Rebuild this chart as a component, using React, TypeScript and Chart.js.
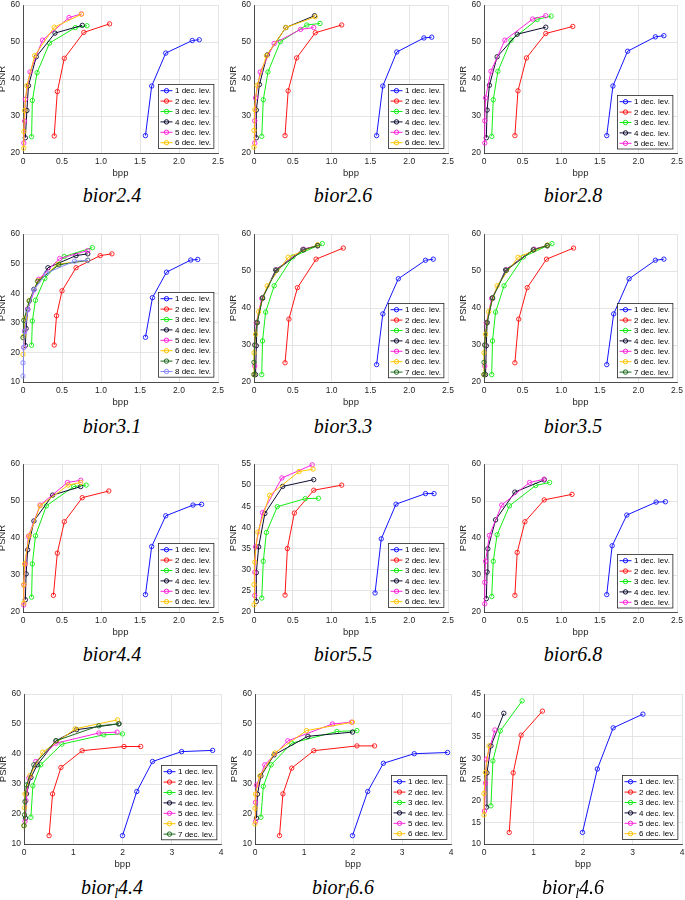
import React, { useEffect, useRef } from 'react';
import { Chart, registerables } from 'chart.js';
Chart.register(...registerables);

// ---------- data: [bpp, PSNR] pairs per decomposition level ----------
// bior2.4
const b24_1 = [[1.57, 24.7], [1.65, 38.1], [1.83, 47.0], [2.17, 50.4], [2.26, 50.6]];
const b24_2 = [[0.40, 24.6], [0.44, 36.6], [0.53, 45.6], [0.78, 52.6], [1.11, 54.9]];
const b24_3 = [[0.11, 24.4], [0.12, 34.2], [0.18, 41.7], [0.34, 49.7], [0.67, 53.9], [0.82, 54.4]];
const b24_4 = [[0.03, 24.1], [0.05, 31.5], [0.07, 38.2], [0.17, 46.0], [0.41, 52.4], [0.76, 54.5]];
const b24_5 = [[0.01, 22.7], [0.02, 28.6], [0.03, 34.5], [0.09, 41.9], [0.25, 50.5], [0.59, 56.6], [0.75, 57.6]];
const b24_6 = [[0.01, 21.3], [0.01, 25.8], [0.02, 31.5], [0.05, 38.2], [0.15, 46.3], [0.40, 54.0], [0.75, 57.5]];
// bior2.6
const b26_1 = [[1.58, 24.7], [1.66, 38.1], [1.84, 47.3], [2.19, 51.1], [2.29, 51.3]];
const b26_2 = [[0.40, 24.7], [0.44, 36.8], [0.55, 45.7], [0.79, 52.5], [1.13, 54.6]];
const b26_3 = [[0.10, 24.5], [0.12, 34.4], [0.18, 41.9], [0.34, 50.1], [0.68, 54.6], [0.85, 55.0]];
const b26_4 = [[0.03, 24.1], [0.03, 31.6], [0.07, 38.5], [0.17, 46.5], [0.41, 53.9], [0.78, 57.1]];
const b26_5 = [[0.01, 22.7], [0.01, 28.7], [0.02, 34.9], [0.08, 41.9], [0.26, 49.6], [0.60, 53.4], [0.77, 53.9]];
const b26_6 = [[0.00, 21.6], [0.00, 26.1], [0.01, 31.7], [0.04, 38.3], [0.16, 46.3], [0.41, 53.9], [0.79, 56.8]];
// bior2.8
const b28_1 = [[1.59, 24.7], [1.67, 38.1], [1.86, 47.5], [2.22, 51.4], [2.33, 51.7]];
const b28_2 = [[0.40, 24.7], [0.44, 36.8], [0.55, 45.7], [0.80, 52.3], [1.15, 54.2]];
const b28_3 = [[0.10, 24.5], [0.12, 34.4], [0.18, 42.1], [0.35, 50.5], [0.69, 56.1], [0.87, 57.0]];
const b28_4 = [[0.03, 24.1], [0.04, 31.6], [0.07, 38.3], [0.17, 46.0], [0.43, 52.1], [0.80, 54.0]];
const b28_5 = [[0.01, 22.7], [0.01, 28.7], [0.02, 34.9], [0.09, 42.1], [0.27, 50.5], [0.63, 56.2], [0.80, 57.1]];
// bior3.1
const b31_1 = [[1.57, 25.1], [1.66, 38.5], [1.84, 47.1], [2.15, 51.2], [2.24, 51.4]];
const b31_2 = [[0.40, 22.5], [0.43, 32.4], [0.50, 40.8], [0.68, 48.6], [0.99, 52.7], [1.14, 53.3]];
const b31_3 = [[0.11, 22.4], [0.12, 30.6], [0.16, 37.6], [0.28, 45.0], [0.53, 52.4], [0.89, 55.4]];
const b31_4 = [[0.03, 22.3], [0.04, 28.1], [0.06, 34.6], [0.14, 41.3], [0.32, 48.6], [0.68, 52.7], [0.83, 53.3]];
const b31_5 = [[0.01, 21.7], [0.02, 27.3], [0.06, 34.6], [0.20, 44.7], [0.47, 51.7], [0.83, 54.4]];
const b31_6 = [[0.00, 19.3], [0.01, 25.5], [0.03, 31.5], [0.08, 37.5], [0.19, 44.2], [0.45, 49.8], [0.83, 51.1]];
const b31_7 = [[0.00, 25.0], [0.01, 30.8], [0.08, 37.4], [0.19, 44.0], [0.46, 49.6], [0.83, 51.1]];
const b31_8 = [[0.00, 12.0], [0.00, 16.5], [0.01, 21.7], [0.02, 27.0], [0.06, 34.3], [0.14, 41.1], [0.30, 46.8], [0.66, 50.8], [0.83, 51.1]];
// bior3.3
const b33_1 = [[1.58, 24.7], [1.66, 38.4], [1.86, 47.9], [2.21, 52.9], [2.31, 53.2]];
const b33_2 = [[0.40, 25.2], [0.45, 37.0], [0.56, 45.5], [0.80, 53.2], [1.15, 56.2]];
const b33_3 = [[0.10, 22.0], [0.11, 31.1], [0.15, 38.9], [0.26, 46.0], [0.50, 53.8], [0.88, 57.4]];
const b33_4 = [[0.02, 22.0], [0.03, 29.8], [0.04, 36.0], [0.11, 42.6], [0.28, 50.3], [0.63, 55.8], [0.82, 56.8]];
const b33_5 = [[0.01, 24.3], [0.01, 30.0], [0.03, 36.0], [0.10, 42.6], [0.29, 50.3], [0.64, 55.9], [0.82, 56.9]];
const b33_6 = [[0.00, 22.0], [0.00, 27.9], [0.02, 32.9], [0.06, 39.0], [0.17, 46.0], [0.44, 53.7], [0.82, 57.1]];
const b33_7 = [[0.00, 22.0], [0.00, 25.3], [0.01, 30.0], [0.04, 36.1], [0.11, 42.8], [0.29, 50.2], [0.64, 55.7], [0.82, 56.9]];
// bior3.5
const b35_1 = [[1.59, 24.7], [1.68, 38.4], [1.88, 47.9], [2.22, 52.9], [2.33, 53.2]];
const b35_2 = [[0.40, 25.2], [0.45, 37.0], [0.56, 45.5], [0.81, 53.2], [1.16, 56.2]];
const b35_3 = [[0.10, 22.0], [0.11, 31.1], [0.15, 38.9], [0.26, 46.0], [0.51, 53.8], [0.88, 57.4]];
const b35_4 = [[0.02, 22.0], [0.03, 29.8], [0.04, 36.0], [0.11, 42.6], [0.28, 50.3], [0.64, 55.8], [0.82, 56.8]];
const b35_5 = [[0.01, 24.3], [0.01, 30.0], [0.03, 36.0], [0.10, 42.6], [0.29, 50.3], [0.65, 55.9], [0.82, 56.9]];
const b35_6 = [[0.00, 22.0], [0.00, 27.9], [0.02, 32.9], [0.06, 39.0], [0.17, 46.0], [0.44, 53.7], [0.82, 57.0]];
const b35_7 = [[0.00, 22.0], [0.00, 25.3], [0.01, 30.0], [0.04, 36.1], [0.11, 42.8], [0.29, 50.2], [0.64, 55.7], [0.82, 56.9]];
// bior4.4
const b44_1 = [[1.57, 24.7], [1.65, 37.7], [1.83, 46.0], [2.18, 48.9], [2.29, 49.1]];
const b44_2 = [[0.39, 24.5], [0.44, 35.9], [0.53, 44.4], [0.76, 50.9], [1.10, 52.7]];
const b44_3 = [[0.11, 24.0], [0.12, 33.0], [0.16, 40.6], [0.30, 48.7], [0.65, 53.9], [0.81, 54.3]];
const b44_4 = [[0.03, 23.3], [0.04, 30.3], [0.06, 36.8], [0.14, 44.6], [0.38, 51.6], [0.74, 53.9]];
const b44_5 = [[0.01, 21.9], [0.01, 27.3], [0.03, 33.0], [0.07, 40.5], [0.22, 48.9], [0.57, 55.0], [0.74, 55.6]];
const b44_6 = [[0.01, 22.4], [0.01, 27.4], [0.02, 33.0], [0.08, 40.6], [0.22, 48.7], [0.58, 54.3], [0.74, 55.0]];
// bior5.5
const b55_1 = [[1.56, 24.5], [1.64, 37.3], [1.83, 45.5], [2.21, 48.0], [2.32, 48.0]];
const b55_2 = [[0.40, 24.0], [0.43, 35.0], [0.52, 43.4], [0.77, 48.8], [1.13, 50.0]];
const b55_3 = [[0.10, 23.3], [0.12, 32.0], [0.16, 38.8], [0.30, 44.9], [0.66, 46.8], [0.83, 46.9]];
const b55_4 = [[0.03, 22.5], [0.03, 29.3], [0.06, 35.4], [0.14, 43.3], [0.37, 49.7], [0.77, 51.3]];
const b55_5 = [[0.01, 23.9], [0.01, 29.4], [0.02, 35.4], [0.11, 43.5], [0.36, 51.7], [0.75, 54.8]];
const b55_6 = [[0.00, 21.7], [0.00, 26.5], [0.01, 31.8], [0.05, 38.9], [0.20, 47.6], [0.58, 53.2], [0.76, 53.8]];
// bior6.8
const b68_1 = [[1.59, 24.7], [1.66, 37.9], [1.85, 46.2], [2.23, 49.7], [2.35, 49.8]];
const b68_2 = [[0.40, 24.5], [0.43, 36.1], [0.53, 44.4], [0.78, 50.3], [1.14, 51.8]];
const b68_3 = [[0.10, 24.2], [0.12, 33.7], [0.17, 40.9], [0.33, 48.7], [0.67, 54.2], [0.85, 55.0]];
const b68_4 = [[0.03, 23.6], [0.04, 30.8], [0.05, 37.1], [0.15, 44.9], [0.40, 52.4], [0.78, 55.7]];
const b68_5 = [[0.01, 22.2], [0.01, 28.0], [0.02, 33.7], [0.07, 40.7], [0.23, 48.9], [0.59, 55.0], [0.78, 55.9]];
// bior_l4.4
const bl44_1 = [[2.00, 12.8], [2.29, 27.5], [2.61, 37.5], [3.20, 40.8], [3.83, 41.2]];
const bl44_2 = [[0.51, 12.8], [0.58, 26.7], [0.75, 35.5], [1.18, 41.1], [2.03, 42.5], [2.37, 42.5]];
const bl44_3 = [[0.14, 18.9], [0.18, 29.4], [0.34, 36.4], [0.77, 43.3], [1.62, 46.4], [2.00, 46.7]];
const bl44_4 = [[0.03, 18.6], [0.05, 26.7], [0.14, 32.2], [0.27, 36.4], [0.65, 44.4], [1.07, 48.1], [1.93, 50.1]];
const bl44_5 = [[0.02, 17.5], [0.04, 24.5], [0.10, 32.0], [0.24, 37.5], [0.65, 43.6], [1.52, 47.0], [1.89, 47.3]];
const bl44_6 = [[0.00, 16.1], [0.01, 22.1], [0.02, 26.7], [0.12, 32.8], [0.38, 40.6], [1.04, 48.4], [1.90, 51.4]];
const bl44_7 = [[0.00, 16.1], [0.01, 19.7], [0.02, 24.1], [0.05, 29.7], [0.20, 36.4], [0.65, 44.4], [1.52, 49.4], [1.92, 50.0]];
// bior_l6.6
const bl66_1 = [[1.99, 12.8], [2.30, 27.5], [2.62, 36.9], [3.25, 40.1], [3.93, 40.5]];
const bl66_2 = [[0.50, 12.8], [0.57, 26.7], [0.75, 35.3], [1.20, 41.1], [2.08, 42.7], [2.44, 42.7]];
const bl66_3 = [[0.12, 18.9], [0.17, 29.2], [0.33, 36.4], [0.75, 43.6], [1.67, 47.5], [2.08, 47.8]];
const bl66_4 = [[0.03, 18.6], [0.05, 26.6], [0.12, 32.7], [0.39, 39.7], [1.08, 45.9], [1.99, 47.3]];
const bl66_5 = [[0.01, 17.5], [0.01, 23.9], [0.03, 29.6], [0.20, 36.4], [0.67, 44.4], [1.58, 50.0], [1.97, 50.6]];
const bl66_6 = [[0.00, 16.7], [0.00, 21.9], [0.01, 26.6], [0.10, 32.7], [0.40, 40.3], [1.05, 47.8], [1.99, 50.6]];
// bior_l4.6
const bl46_1 = [[1.99, 12.7], [2.29, 27.5], [2.61, 37.1], [3.21, 40.3]];
const bl46_2 = [[0.51, 12.7], [0.59, 26.6], [0.75, 35.4], [1.18, 41.0]];
const bl46_3 = [[0.14, 18.9], [0.18, 29.4], [0.33, 36.4], [0.77, 43.4]];
const bl46_4 = [[0.05, 18.6], [0.06, 26.6], [0.14, 32.9], [0.40, 40.5]];
const bl46_5 = [[0.01, 17.7], [0.03, 24.2], [0.05, 29.8], [0.22, 36.6]];
const bl46_6 = [[0.00, 16.8], [0.00, 21.8], [0.03, 26.7], [0.10, 32.9]];

const LEVEL_LABELS = ['1 dec. lev.', '2 dec. lev.', '3 dec. lev.', '4 dec. lev.', '5 dec. lev.', '6 dec. lev.', '7 dec. lev.', '8 dec. lev.'];
const COLORS = ['#1414ff', '#ff1414', '#14ee14', '#0c0c30', '#ff22dd', '#ffc400', '#1e6a1e', '#8a8aff'];

const X_TICKS_A = { max: 2.5, step: 0.5 };
const X_TICKS_B = { max: 4, step: 1 };

// ---------- layout (plot-area pixel boxes) ----------
const PLOTS = [
  { base: 'bior', sub: '', ver: '2.4', series: [b24_1, b24_2, b24_3, b24_4, b24_5, b24_6], xt: X_TICKS_A, yMin: 20, yMax: 60, yStep: 10, L: 23, T: 5, R: 218, B: 153, cx: 112, capTop: 188 },
  { base: 'bior', sub: '', ver: '2.6', series: [b26_1, b26_2, b26_3, b26_4, b26_5, b26_6], xt: X_TICKS_A, yMin: 20, yMax: 60, yStep: 10, L: 254, T: 5, R: 448, B: 153, cx: 343, capTop: 188 },
  { base: 'bior', sub: '', ver: '2.8', series: [b28_1, b28_2, b28_3, b28_4, b28_5], xt: X_TICKS_A, yMin: 20, yMax: 60, yStep: 10, L: 484, T: 5, R: 677, B: 153, cx: 573, capTop: 188 },
  { base: 'bior', sub: '', ver: '3.1', series: [b31_1, b31_2, b31_3, b31_4, b31_5, b31_6, b31_7, b31_8], xt: X_TICKS_A, yMin: 10, yMax: 60, yStep: 10, L: 23, T: 234, R: 218, B: 382, cx: 112, capTop: 419 },
  { base: 'bior', sub: '', ver: '3.3', series: [b33_1, b33_2, b33_3, b33_4, b33_5, b33_6, b33_7], xt: X_TICKS_A, yMin: 20, yMax: 60, yStep: 10, L: 254, T: 234, R: 448, B: 382, cx: 343, capTop: 419 },
  { base: 'bior', sub: '', ver: '3.5', series: [b35_1, b35_2, b35_3, b35_4, b35_5, b35_6, b35_7], xt: X_TICKS_A, yMin: 20, yMax: 60, yStep: 10, L: 484, T: 234, R: 677, B: 382, cx: 573, capTop: 419 },
  { base: 'bior', sub: '', ver: '4.4', series: [b44_1, b44_2, b44_3, b44_4, b44_5, b44_6], xt: X_TICKS_A, yMin: 20, yMax: 60, yStep: 10, L: 23, T: 464, R: 218, B: 612, cx: 112, capTop: 647 },
  { base: 'bior', sub: '', ver: '5.5', series: [b55_1, b55_2, b55_3, b55_4, b55_5, b55_6], xt: X_TICKS_A, yMin: 20, yMax: 55, yStep: 5, L: 254, T: 464, R: 448, B: 612, cx: 343, capTop: 647 },
  { base: 'bior', sub: '', ver: '6.8', series: [b68_1, b68_2, b68_3, b68_4, b68_5], xt: X_TICKS_A, yMin: 20, yMax: 60, yStep: 10, L: 484, T: 464, R: 677, B: 612, cx: 573, capTop: 647 },
  { base: 'bior', sub: 'l', ver: '4.4', series: [bl44_1, bl44_2, bl44_3, bl44_4, bl44_5, bl44_6, bl44_7], xt: X_TICKS_B, yMin: 10, yMax: 60, yStep: 10, L: 24, T: 694, R: 221, B: 844, cx: 112, capTop: 880 },
  { base: 'bior', sub: 'l', ver: '6.6', series: [bl66_1, bl66_2, bl66_3, bl66_4, bl66_5, bl66_6], xt: X_TICKS_B, yMin: 10, yMax: 60, yStep: 10, L: 255, T: 694, R: 451, B: 844, cx: 343, capTop: 880 },
  { base: 'bior', sub: 'l', ver: '4.6', series: [bl46_1, bl46_2, bl46_3, bl46_4, bl46_5, bl46_6], xt: X_TICKS_B, yMin: 10, yMax: 45, yStep: 5, L: 484, T: 694, R: 682, B: 844, cx: 573, capTop: 880 },
];

const SANS = '"Liberation Sans", Arial, Helvetica, sans-serif';
const AXIS_W = 26;
const AXIS_H = 26;
const PAD_T = 6;
const PAD_R = 8;

const insideLegend = {
  id: 'insideLegend',
  afterDatasetsDraw(chart: any) {
    const { ctx, chartArea } = chart;
    const ds = chart.data.datasets;
    const rowH = 10.4;
    ctx.save();
    ctx.font = '8px ' + SANS;
    let maxW = 0;
    ds.forEach((d: any) => { maxW = Math.max(maxW, ctx.measureText(d.label).width); });
    const w = 2 + 12 + 2.5 + maxW + 3;
    const h = ds.length * rowH + 1.5;
    const x0 = Math.round(chartArea.right - 4.5 - w) + 0.5;
    const y0 = Math.round(chartArea.bottom - 5 - h) + 0.5;
    ctx.fillStyle = '#ffffff';
    ctx.fillRect(x0, y0, w, h);
    ctx.strokeStyle = '#262626';
    ctx.lineWidth = 0.8;
    ctx.strokeRect(x0, y0, w, h);
    ds.forEach((d: any, i: number) => {
      const cy = y0 + 1 + rowH * (i + 0.5);
      ctx.strokeStyle = d.borderColor;
      ctx.lineWidth = 1;
      ctx.beginPath();
      ctx.moveTo(x0 + 2, cy);
      ctx.lineTo(x0 + 14, cy);
      ctx.stroke();
      ctx.beginPath();
      ctx.arc(x0 + 8, cy, 2.2, 0, Math.PI * 2);
      ctx.stroke();
      ctx.fillStyle = '#000000';
      ctx.textBaseline = 'middle';
      ctx.textAlign = 'left';
      ctx.fillText(d.label, x0 + 16.5, cy + 0.5);
    });
    ctx.restore();
  },
};

function makeConfig(p: any): any {
  const n = p.series.length;
  return {
    type: 'line',
    data: {
      datasets: p.series.map((pts: number[][], i: number) => ({
        label: LEVEL_LABELS[i],
        data: pts.map(([x, y]) => ({ x, y })),
        borderColor: COLORS[i],
        backgroundColor: 'transparent',
        pointBorderColor: COLORS[i],
        pointBackgroundColor: 'rgba(0,0,0,0)',
        pointRadius: 2.2,
        pointBorderWidth: 0.9,
        borderWidth: 1,
        tension: 0,
        fill: false,
        clip: false,
        order: n - i,
      })),
    },
    options: {
      animation: false,
      responsive: false,
      events: [],
      layout: { padding: { top: PAD_T, right: PAD_R, left: 0, bottom: 0 } },
      plugins: { legend: { display: false }, tooltip: { enabled: false }, title: { display: false } },
      scales: {
        x: {
          type: 'linear',
          min: 0,
          max: p.xt.max,
          ticks: { stepSize: p.xt.step, font: { family: SANS, size: 8.5 }, color: '#262626', padding: 4, maxRotation: 0, autoSkip: false },
          grid: { color: '#dedede', lineWidth: 0.8, drawTicks: false },
          border: { display: true, color: '#262626', width: 0.8 },
          title: { display: true, text: 'bpp', font: { family: SANS, size: 9.5 }, color: '#262626', padding: 0 },
          afterFit: (s: any) => { s.height = AXIS_H; s.paddingLeft = 0; s.paddingRight = 0; },
        },
        y: {
          type: 'linear',
          min: p.yMin,
          max: p.yMax,
          ticks: { stepSize: p.yStep, font: { family: SANS, size: 8.5 }, color: '#262626', padding: 3, autoSkip: false },
          grid: { color: '#dedede', lineWidth: 0.8, drawTicks: false },
          border: { display: true, color: '#262626', width: 0.8 },
          title: { display: true, text: 'PSNR', font: { family: SANS, size: 9.5 }, color: '#262626', padding: 0 },
          afterFit: (s: any) => { s.width = AXIS_W; s.paddingTop = 0; s.paddingBottom = 0; },
        },
      },
    },
    plugins: [insideLegend],
  };
}

function Panel({ p }: { p: any }) {
  const ref = useRef<HTMLCanvasElement>(null);
  const W = p.R - p.L + AXIS_W + PAD_R;
  const H = p.B - p.T + PAD_T + AXIS_H;
  useEffect(() => {
    const chart = new Chart(ref.current as HTMLCanvasElement, makeConfig(p));
    return () => chart.destroy();
  }, []);
  return (
    <>
      <canvas
        ref={ref}
        width={W}
        height={H}
        style={{ position: 'absolute', left: p.L - AXIS_W, top: p.T - PAD_T, width: W, height: H }}
      />
      <div
        style={{
          position: 'absolute',
          left: p.cx - 70,
          width: 140,
          top: p.capTop - 3,
          textAlign: 'center',
          fontFamily: '"Liberation Serif", "Times New Roman", serif',
          fontStyle: 'italic',
          fontSize: 20,
          lineHeight: '20px',
          color: '#000',
          whiteSpace: 'nowrap',
        }}
      >
        {p.base}
        {p.sub ? <span style={{ fontSize: 14, position: 'relative', top: 4 }}>{p.sub}</span> : null}
        {p.ver}
      </div>
    </>
  );
}

export default function App() {
  return (
    <div style={{ position: 'absolute', left: 0, top: 0, width: 685, height: 900, overflow: 'hidden', background: '#fff' }}>
      {PLOTS.map((p, i) => (
        <Panel key={i} p={p} />
      ))}
    </div>
  );
}
